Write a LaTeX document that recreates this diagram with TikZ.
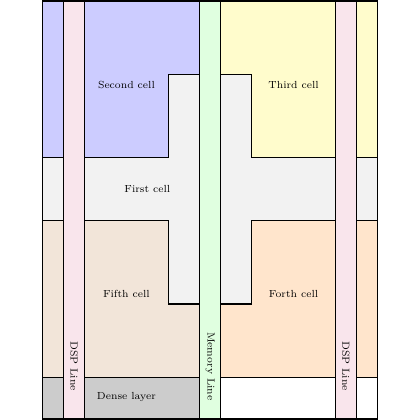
\documentclass[tikz,border=0pt]{standalone}
\begin{document}
\begin{tikzpicture}[x=1cm,y=1cm,
  cellline/.style={draw=black,line width=0.8pt},
  lbl/.style={font=\fontsize{7}{8.4}\selectfont,inner sep=1pt},
  vlbl/.style={lbl,rotate=-90}]
\useasboundingbox (-1.025,-0.025) rectangle (9.025,10.025);
% first cell background
\fill[black!5] (0,2.75) rectangle (8,8.25);
\draw[cellline] (0,2.75) rectangle (8,8.25);
% second cell
\filldraw[cellline,fill=blue!20] (0,10) -- (3.75,10) -- (3.75,8.25) -- (3,8.25) -- (3,6.25) -- (0,6.25) -- cycle;
% third cell
\filldraw[cellline,fill=yellow!20] (4.25,10) -- (8,10) -- (8,6.25) -- (5,6.25) -- (5,8.25) -- (4.25,8.25) -- cycle;
% fifth cell
\filldraw[cellline,fill=brown!20] (0,4.75) -- (3,4.75) -- (3,2.75) -- (3.75,2.75) -- (3.75,1) -- (0,1) -- cycle;
% forth cell
\filldraw[cellline,fill=orange!20] (4.25,2.75) -- (5,2.75) -- (5,4.75) -- (8,4.75) -- (8,1) -- (4.25,1) -- cycle;
% dense layer
\filldraw[cellline,fill=black!20] (0,0) rectangle (3.75,1);
\draw[cellline] (4.25,0) rectangle (8,1);
% strips
\filldraw[cellline,fill=purple!10] (0.5,0) rectangle (1,10);
\filldraw[cellline,fill=green!12] (3.75,0) rectangle (4.25,10);
\filldraw[cellline,fill=purple!10] (7,0) rectangle (7.5,10);
% outer frame
\draw[cellline] (0,0) rectangle (8,10);
% labels
\node[lbl] (second) at (2,8) {Second cell};
\node[lbl] (third) at (6,8) {Third cell};
\node[lbl] (first) at (2.5,5.5) {First cell};
\node[lbl] (fifth) at (2,3) {Fifth cell};
\node[lbl] (forth) at (6,3) {Forth cell};
\node[lbl] (dense) at (2,0.52) {Dense layer};
\node[vlbl] (dspl) at (0.75,1.26) {DSP Line};
\node[vlbl] (mem) at (4,1.26) {Memory Line};
\node[vlbl] (dspr) at (7.25,1.26) {DSP Line};
\end{tikzpicture}
\end{document}
